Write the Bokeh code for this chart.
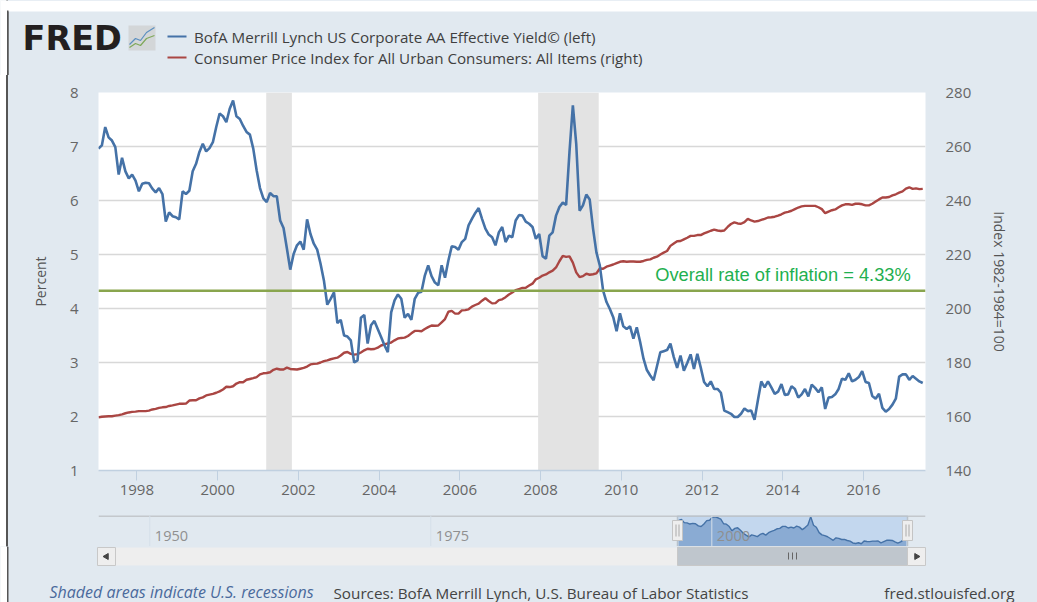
from bokeh.plotting import figure
from bokeh.layouts import column
from bokeh.models import Range1d, LinearAxis, FixedTicker, BoxAnnotation, Span
from bokeh.core.properties import value
from bokeh.embed import file_html
from bokeh.resources import INLINE

# ---------- data ----------
aa_yield = [
 6.96,7.02,7.36,7.17,7.11,6.99,6.48,6.79,6.54,6.41,6.48,6.37,
 6.17,6.31,6.33,6.32,6.22,6.15,6.23,6.12,5.61,5.78,5.71,5.69,
 5.65,6.17,6.12,6.18,6.54,6.68,6.90,7.05,6.91,6.97,7.08,7.36,
 7.61,7.56,7.45,7.70,7.85,7.56,7.51,7.38,7.27,7.22,6.96,6.56,
 6.23,6.04,5.97,6.14,6.08,6.08,5.63,5.49,5.11,4.72,5.01,5.17,
 5.24,5.09,5.65,5.38,5.20,5.09,4.83,4.52,4.07,4.18,4.30,3.73,
 3.79,3.50,3.48,3.41,3.00,3.04,3.83,3.88,3.35,3.69,3.77,3.62,
 3.47,3.32,3.19,3.93,4.15,4.26,4.18,3.83,3.90,3.79,4.18,4.29,
 4.31,4.61,4.80,4.60,4.48,4.43,4.80,4.57,4.89,5.15,5.14,5.09,
 5.23,5.29,5.54,5.66,5.77,5.86,5.66,5.48,5.37,5.32,5.17,5.41,
 5.51,5.23,5.35,5.32,5.63,5.73,5.72,5.61,5.57,5.51,5.29,5.38,
 4.97,4.92,5.35,5.41,5.72,5.88,5.96,5.92,6.90,7.76,7.05,5.81,
 5.91,6.11,6.02,5.48,5.04,4.80,4.33,4.12,3.99,3.84,3.58,3.91,
 3.67,3.62,3.67,3.44,3.65,3.38,3.07,2.86,2.76,2.67,2.93,3.19,
 3.21,3.23,3.35,3.10,2.90,3.13,2.85,2.99,3.15,2.88,3.16,2.91,
 2.64,2.56,2.65,2.51,2.51,2.44,2.11,2.08,2.05,1.99,1.99,2.05,
 2.15,2.10,2.11,1.94,2.30,2.65,2.54,2.65,2.54,2.42,2.46,2.60,
 2.40,2.41,2.56,2.51,2.35,2.41,2.51,2.37,2.59,2.53,2.45,2.54,
 2.14,2.35,2.36,2.41,2.51,2.70,2.68,2.80,2.65,2.68,2.73,2.84,
 2.64,2.62,2.38,2.33,2.42,2.16,2.09,2.14,2.22,2.33,2.74,2.78,
 2.78,2.68,2.75,2.70,2.65,2.62]
cpi = [
 159.7,159.9,160.0,160.1,160.1,160.3,160.5,160.8,161.2,161.5,161.7,161.8,
 162.0,162.0,162.0,162.2,162.6,162.8,163.2,163.4,163.5,163.9,164.1,164.4,
 164.7,164.7,164.8,165.9,166.0,166.0,166.7,167.1,167.8,168.1,168.4,168.8,
 169.3,170.0,171.0,170.9,171.2,172.2,172.7,172.7,173.6,173.9,174.2,174.6,
 175.6,176.0,176.1,176.4,177.3,177.7,177.4,177.4,178.1,177.6,177.5,177.4,
 177.7,178.0,178.5,179.3,179.5,179.6,180.0,180.5,180.8,181.2,181.5,181.8,
 182.6,183.6,183.9,183.2,182.9,183.1,183.7,184.5,185.1,184.9,185.0,185.5,
 186.3,186.7,187.1,187.4,188.2,188.9,189.1,189.2,189.8,190.8,191.7,191.7,
 191.6,192.4,193.1,193.7,193.6,193.7,194.9,196.1,198.8,199.1,198.1,198.1,
 199.3,199.4,199.7,200.7,201.3,201.8,202.9,203.8,202.8,201.9,202.0,203.1,
 203.4,204.2,205.2,205.9,206.8,207.2,207.6,207.7,208.5,209.2,210.8,211.4,
 212.2,212.6,213.4,214.0,215.2,217.5,219.5,219.1,219.3,217.0,213.4,211.6,
 212.0,212.9,212.5,212.7,213.0,214.8,214.7,215.5,215.9,216.3,216.8,217.3,
 217.5,217.3,217.4,217.4,217.3,217.3,217.6,218.0,218.2,218.8,219.2,220.0,
 220.7,221.3,223.2,224.1,224.9,225.0,225.6,226.2,226.9,226.9,227.2,227.2,
 227.8,228.3,228.8,229.2,228.9,228.7,228.9,230.2,231.3,231.9,231.5,231.4,
 232.0,233.2,232.6,232.2,232.4,232.8,233.2,233.7,233.8,234.0,234.4,234.9,
 235.5,235.8,236.2,236.8,237.4,237.8,238.0,238.0,238.0,238.0,237.5,236.8,
 235.3,235.9,236.4,236.7,237.5,238.2,238.6,238.6,238.4,238.8,238.8,238.6,
 238.2,238.2,238.8,239.6,240.4,241.1,241.1,241.3,241.9,242.3,242.9,243.4,
 244.4,244.9,244.3,244.5,244.2,244.3]
months = [1997.05 + i / 12 for i in range(len(aa_yield))]
recessions = [(2001.205, 2001.84), (2007.94, 2009.44)]
inflation_rate = 4.33
inflation_label = "Overall rate of inflation = 4.33%"
legend_labels = ["BofA Merrill Lynch US Corporate AA Effective Yield\u00a9 (left)",
                 "Consumer Price Index for All Urban Consumers: All Items (right)"]
left_ticks = [1, 2, 3, 4, 5, 6, 7, 8]
right_ticks = [140, 160, 180, 200, 220, 240, 260, 280]
year_ticks = list(range(1998, 2018, 2))
nav_years = [1950, 1975, 2000]

# ---------- style ----------
PANEL = "#e1e9f0"
BLUE, RED, GREEN = "#4572a7", "#aa4643", "#89a54e"
AXIS = "#c0d0e0"
W = 1037
OS = value("Open Sans")


def pixel_fig(top, bottom):
    f = figure(width=W, height=bottom - top, x_range=Range1d(0, W), y_range=Range1d(bottom, top),
               toolbar_location=None, output_backend="svg", min_border=0, outline_line_color=None,
               background_fill_color=PANEL, border_fill_color=PANEL, x_axis_type=None, y_axis_type=None,
               frame_align=False)
    f.grid.visible = False
    f.min_border_left = f.min_border_right = f.min_border_top = f.min_border_bottom = 0
    f.quad(left=[0], right=[6.5], top=[top], bottom=[bottom], color="white", line_color=None)
    f.quad(left=[6.5], right=[8], top=[max(top, 10)], bottom=[bottom], color="#555555", line_color=None)
    return f


# ---------- header ----------
h = pixel_fig(0, 75)
h.quad(left=[0], right=[W], top=[0], bottom=[11], color="white", line_color=None)
h.quad(left=[6.5], right=[8], top=[10], bottom=[75], color="#555555", line_color=None)
h.text(x=[22], y=[37.5], text=["FRED"], text_font=value("DejaVu Sans"), text_font_style="bold",
       text_font_size="33.5px", text_color="#231f20", text_baseline="middle")
h.quad(left=[128], right=[155], top=[25], bottom=[50], color="#d3d6d8", line_color=None)
h.line([129, 135, 140, 146, 154], [44, 38, 40, 32, 27], line_color="#5a8fc0", line_width=1.2)
h.line([129, 135, 140, 146, 154], [47, 43, 45, 38, 35], line_color="#7fa85a", line_width=1.2)
for yy, col, lab in zip([36, 57], [BLUE, RED], legend_labels):
    h.line([167, 186], [yy, yy], line_color=col, line_width=2.2)
    h.text(x=[193.5], y=[yy], text=[lab], text_font=OS, text_font_size="15.2px", text_color="#3f3f3f",
           text_baseline="middle")

# ---------- main chart ----------
p = figure(width=W - 8, height=435, x_range=Range1d(1997.05, 2017.535), y_range=Range1d(1, 8),
           toolbar_location=None, output_backend="svg", background_fill_color="white",
           border_fill_color=PANEL, outline_line_color=None, frame_align=False, margin=(0, 0, 0, 8),
           min_border_left=90, min_border_right=112, min_border_top=17, min_border_bottom=40)
p.extra_y_ranges = {"cpi": Range1d(140, 280)}
for (a, b) in recessions:
    p.add_layout(BoxAnnotation(left=a, right=b, fill_color="#e3e3e3", fill_alpha=1, line_color=None, level="underlay"))
p.xgrid.visible = False
p.ygrid.ticker = FixedTicker(ticks=left_ticks)
p.ygrid.grid_line_color = "#d8d8d8"
p.ygrid.grid_line_width = 1.6

p.line(months, cpi, y_range_name="cpi", line_color=RED, line_width=2.4)
p.line(months, aa_yield, line_color=BLUE, line_width=2.6)
p.add_layout(Span(location=inflation_rate, dimension="width", line_color=GREEN, line_width=2.6))
p.text(x=[2017.17], y=[4.63], text=[inflation_label], text_align="right", text_baseline="middle",
       text_font=value("Liberation Sans"), text_font_size="18.3px", text_color="#1fb050")

p.yaxis[0].ticker = FixedTicker(ticks=left_ticks)
right = LinearAxis(y_range_name="cpi", ticker=FixedTicker(ticks=right_ticks), axis_label="Index 1982-1984=100")
p.add_layout(right, "right")
p.yaxis[0].axis_label = "Percent"
p.xaxis[0].ticker = FixedTicker(ticks=year_ticks)
for ax in (p.xaxis[0], p.yaxis[0], right):
    ax.axis_line_color = None
    ax.major_tick_line_color = None
    ax.minor_tick_line_color = None
    ax.major_label_text_font = "Open Sans"
    ax.major_label_text_font_size = "15px"
    ax.major_label_text_color = "#666666"
    ax.axis_label_text_font = "Open Sans"
    ax.axis_label_text_font_size = "14px"
    ax.axis_label_text_font_style = "normal"
    ax.axis_label_text_color = "#555555"
p.xaxis[0].axis_line_color = AXIS
p.xaxis[0].axis_line_width = 1.5
p.xaxis[0].major_tick_line_color = AXIS
p.xaxis[0].major_tick_line_width = 1
p.xaxis[0].major_tick_in = 0
p.xaxis[0].major_tick_out = 10
p.yaxis[0].major_label_standoff = 14
p.yaxis[0].axis_label_standoff = 17
right.major_label_standoff = 14
right.axis_label_standoff = 16
p.xaxis[0].major_label_standoff = 4

# ---------- navigator ----------
YEAR_PX = 11.24
n = figure(width=W - 8, height=36, x_range=Range1d(1950 - 51.3 / YEAR_PX, 1950 + (925 - 149.3) / YEAR_PX),
           y_range=Range1d(1.35, 8.0), toolbar_location=None, output_backend="svg",
           background_fill_color=PANEL, border_fill_color=PANEL, outline_line_color=None,
           x_axis_type=None, y_axis_type=None, frame_align=False, margin=(0, 0, 0, 8),
           min_border_left=90, min_border_right=112, min_border_top=5, min_border_bottom=0)
n.grid.visible = False
n.extra_x_ranges = {"px": Range1d(98, 925)}
n.extra_y_ranges = {"px": Range1d(546, 515)}
n.quad(left=[677], right=[907], top=[515], bottom=[546], x_range_name="px", y_range_name="px",
       color="#c3d7ee", line_color=None)
for yr in nav_years:
    n.add_layout(Span(location=yr, dimension="height", line_color="#d5dfe9", line_width=1))
n.varea(x=months[::3], y1=[1.35] * len(months[::3]), y2=aa_yield[::3], color="#8aabd3")
n.line(months[::3], aa_yield[::3], line_color=BLUE, line_width=1.4)
n.text(x=[y + 0.45 for y in nav_years], y=[3.5] * 3, text=[str(y) for y in nav_years], text_font=OS,
       text_font_size="14.5px", text_color="#8f8f8f", text_baseline="middle")
n.line([98, 925], [515.5, 515.5], x_range_name="px", y_range_name="px", line_color="#c4c8cc", line_width=2)
n.line([677, 677, 907, 907], [546, 515.5, 515.5, 546], x_range_name="px", y_range_name="px",
       line_color="#b9c2cb", line_width=1.5)
for hx in (677, 907):
    n.quad(left=[hx - 5], right=[hx + 5], top=[520], bottom=[540], x_range_name="px", y_range_name="px",
           color="#eeeeee", line_color="#c4c4c4")
    n.segment(x0=[hx - 1.5, hx + 1.5], x1=[hx - 1.5, hx + 1.5], y0=[524, 524], y1=[536, 536],
              x_range_name="px", y_range_name="px", line_color="#aaaaaa")

# ---------- scrollbar + footer ----------
s = pixel_fig(546, 602)
s.quad(left=[115], right=[677], top=[547], bottom=[565], color="#eeeeee", line_color=None)
s.quad(left=[677], right=[907], top=[546.5], bottom=[565], color="#bfc6cd", line_color="#c8c8c8")
for bx0, bx1 in ((97, 115), (907, 925)):
    s.quad(left=[bx0], right=[bx1], top=[547], bottom=[565], color="#eeeeee", line_color="#c8c8c8")
s.segment(x0=[788, 792, 796], x1=[788, 792, 796], y0=[552, 552, 552], y1=[559, 559, 559], line_color="#666666")
s.scatter(x=[106], y=[556], marker="triangle", size=6, angle=1.5708, color="#444444")
s.scatter(x=[916], y=[556], marker="triangle", size=6, angle=-1.5708, color="#444444")
s.text(x=[49], y=[591.5], text=["Shaded areas indicate U.S. recessions"], text_font=OS, text_font_style="italic",
       text_font_size="16px", text_color="#4a6a9c", text_baseline="middle")
s.text(x=[333], y=[592], text=["Sources: BofA Merrill Lynch, U.S. Bureau of Labor Statistics"], text_font=OS,
       text_font_size="15.25px", text_color="#444444", text_baseline="middle")
s.text(x=[1014], y=[592], text=["fred.stlouisfed.org"], text_font=OS, text_align="right",
       text_font_size="15.25px", text_color="#444444", text_baseline="middle")

page = column(h, p, n, s, spacing=0,
              styles={"background": f"linear-gradient(to right, white 6.5px, #555555 6.5px, #555555 8px, {PANEL} 8px)"})
open("out.html", "w").write(file_html(page, INLINE))
